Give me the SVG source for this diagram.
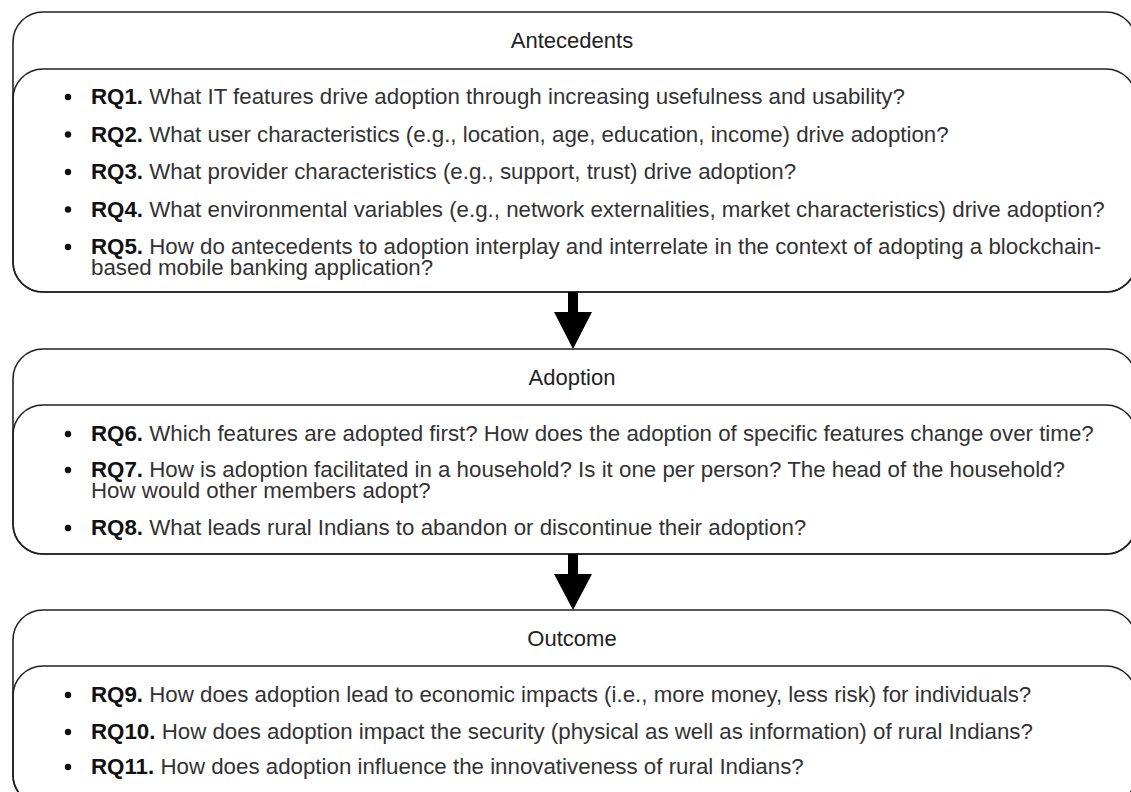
<svg xmlns="http://www.w3.org/2000/svg" width="1131" height="792" viewBox="0 0 1131 792">
<style>
.box{fill:none;stroke:#222;stroke-width:1.6}
.title{font-family:"Liberation Sans",Arial,sans-serif;font-size:22px;fill:#222;text-anchor:middle}
.t{font-family:"Liberation Sans",Arial,sans-serif;font-size:22.3px;fill:#333}
.b{font-weight:bold;fill:#111}
.dot{fill:#111}
.arr{fill:#000}
</style>
<rect width="1131" height="792" fill="#fff"/>
<g id="antecedents">
<rect class="box" x="13" y="12" width="1123" height="280" rx="30" ry="30"/>
<rect class="box" x="13" y="69" width="1123" height="223" rx="30" ry="30"/>
<text class="title" x="572" y="48">Antecedents</text>
<circle class="dot" cx="68" cy="97" r="3.2"/><text class="t" x="91" y="104"><tspan class="b">RQ1.</tspan> What IT features drive adoption through increasing usefulness and usability?</text>
<circle class="dot" cx="68" cy="134.5" r="3.2"/><text class="t" x="91" y="141.5"><tspan class="b">RQ2.</tspan> What user characteristics (e.g., location, age, education, income) drive adoption?</text>
<circle class="dot" cx="68" cy="172" r="3.2"/><text class="t" x="91" y="179"><tspan class="b">RQ3.</tspan> What provider characteristics (e.g., support, trust) drive adoption?</text>
<circle class="dot" cx="68" cy="209.5" r="3.2"/><text class="t" x="91" y="216.5"><tspan class="b">RQ4.</tspan> What environmental variables (e.g., network externalities, market characteristics) drive adoption?</text>
<circle class="dot" cx="68" cy="247" r="3.2"/><text class="t" x="91" y="254"><tspan class="b">RQ5.</tspan> How do antecedents to adoption interplay and interrelate in the context of adopting a blockchain-</text>
<text class="t" x="91" y="275">based mobile banking application?</text>
</g>
<g id="adoption">
<rect class="box" x="13" y="349" width="1123" height="205" rx="30" ry="30"/>
<rect class="box" x="13" y="405" width="1123" height="149" rx="30" ry="30"/>
<text class="title" x="572" y="385">Adoption</text>
<circle class="dot" cx="68" cy="434" r="3.2"/><text class="t" x="91" y="441"><tspan class="b">RQ6.</tspan> Which features are adopted first? How does the adoption of specific features change over time?</text>
<circle class="dot" cx="68" cy="470" r="3.2"/><text class="t" x="91" y="477"><tspan class="b">RQ7.</tspan> How is adoption facilitated in a household? Is it one per person? The head of the household?</text>
<text class="t" x="91" y="498">How would other members adopt?</text>
<circle class="dot" cx="68" cy="528" r="3.2"/><text class="t" x="91" y="535"><tspan class="b">RQ8.</tspan> What leads rural Indians to abandon or discontinue their adoption?</text>
</g>
<g id="outcome">
<rect class="box" x="13" y="610" width="1123" height="195" rx="30" ry="30"/>
<rect class="box" x="13" y="666" width="1123" height="139" rx="30" ry="30"/>
<text class="title" x="572" y="646">Outcome</text>
<circle class="dot" cx="68" cy="695" r="3.2"/><text class="t" x="91" y="702"><tspan class="b">RQ9.</tspan> How does adoption lead to economic impacts (i.e., more money, less risk) for individuals?</text>
<circle class="dot" cx="68" cy="732" r="3.2"/><text class="t" x="91" y="739"><tspan class="b">RQ10.</tspan> How does adoption impact the security (physical as well as information) of rural Indians?</text>
<circle class="dot" cx="68" cy="767" r="3.2"/><text class="t" x="91" y="774"><tspan class="b">RQ11.</tspan> How does adoption influence the innovativeness of rural Indians?</text>
</g>
<g id="connectors">
<path class="arr" d="M568,292 L578,292 L578,312 L592,312 L573,349 L554,312 L568,312 Z"/>
<path class="arr" d="M568,554 L578,554 L578,574 L592,574 L573,610 L554,574 L568,574 Z"/>
</g>
</svg>
